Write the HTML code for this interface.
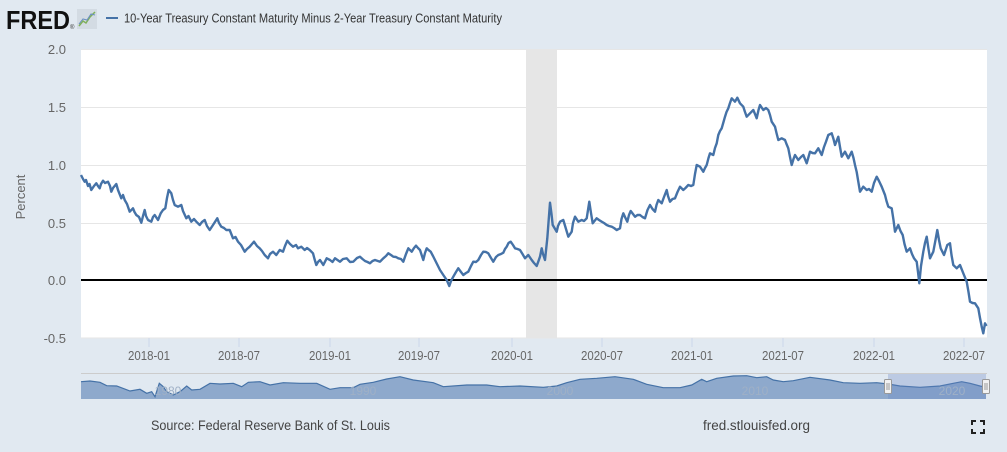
<!DOCTYPE html>
<html><head><meta charset="utf-8"><style>
html,body{margin:0;padding:0;background:#e1e9f1;}
svg{display:block;}
text{font-family:"Liberation Sans",Arial,sans-serif;}
</style></head><body>
<svg width="1007" height="452" viewBox="0 0 1007 452" xmlns="http://www.w3.org/2000/svg">
<rect x="0" y="0" width="1007" height="452" fill="#e1e9f1"/>
<!-- header -->
<text x="6" y="29" font-size="26" font-weight="bold" fill="#111" textLength="64" lengthAdjust="spacingAndGlyphs">FRED</text>
<text x="70" y="29" font-size="6" fill="#333">®</text>
<rect x="77" y="9" width="20" height="20" fill="#d3dbe3"/>
<polyline points="79,26 83,21 86,23 90,17 95,12" fill="none" stroke="#7fb05a" stroke-width="1.5"/>
<polyline points="79,24 83,19 87,20 91,14 95,15" fill="none" stroke="#6a8fc0" stroke-width="1"/>
<line x1="106" y1="18" x2="118" y2="18" stroke="#4572a7" stroke-width="2"/>
<text x="124" y="22.5" font-size="13" fill="#333" textLength="378" lengthAdjust="spacingAndGlyphs">10-Year Treasury Constant Maturity Minus 2-Year Treasury Constant Maturity</text>
<!-- plot -->
<rect x="81" y="49" width="906" height="289" fill="#ffffff"/>
<rect x="526" y="49" width="31" height="289" fill="#e6e6e6"/>
<g stroke="#e6e6e6" stroke-width="1">
<line x1="81" y1="49.5" x2="987" y2="49.5"/>
<line x1="81" y1="107.5" x2="987" y2="107.5"/>
<line x1="81" y1="165.5" x2="987" y2="165.5"/>
<line x1="81" y1="223.5" x2="987" y2="223.5"/>
<line x1="81" y1="338" x2="987" y2="338"/>
</g>
<line x1="81" y1="280" x2="987" y2="280" stroke="#000" stroke-width="2"/>
<!-- y labels -->
<g font-size="13" fill="#666" text-anchor="end">
<text x="66" y="54">2.0</text>
<text x="66" y="112">1.5</text>
<text x="66" y="170">1.0</text>
<text x="66" y="228">0.5</text>
<text x="66" y="285">0.0</text>
<text x="66" y="343">-0.5</text>
</g>
<text transform="translate(25,197) rotate(-90)" font-size="13" fill="#666" text-anchor="middle">Percent</text>
<!-- x ticks -->
<g stroke="#ccd6eb" stroke-width="1">
<line x1="149" y1="338" x2="149" y2="347"/><line x1="239" y1="338" x2="239" y2="347"/>
<line x1="330" y1="338" x2="330" y2="347"/><line x1="419" y1="338" x2="419" y2="347"/>
<line x1="512" y1="338" x2="512" y2="347"/><line x1="602" y1="338" x2="602" y2="347"/>
<line x1="692" y1="338" x2="692" y2="347"/><line x1="783" y1="338" x2="783" y2="347"/>
<line x1="874" y1="338" x2="874" y2="347"/><line x1="964" y1="338" x2="964" y2="347"/>
</g>
<g font-size="13" fill="#666">
<text x="128" y="360" textLength="42" lengthAdjust="spacingAndGlyphs">2018-01</text>
<text x="218" y="360" textLength="42" lengthAdjust="spacingAndGlyphs">2018-07</text>
<text x="309" y="360" textLength="42" lengthAdjust="spacingAndGlyphs">2019-01</text>
<text x="398" y="360" textLength="42" lengthAdjust="spacingAndGlyphs">2019-07</text>
<text x="491" y="360" textLength="42" lengthAdjust="spacingAndGlyphs">2020-01</text>
<text x="581" y="360" textLength="42" lengthAdjust="spacingAndGlyphs">2020-07</text>
<text x="671" y="360" textLength="42" lengthAdjust="spacingAndGlyphs">2021-01</text>
<text x="762" y="360" textLength="42" lengthAdjust="spacingAndGlyphs">2021-07</text>
<text x="853" y="360" textLength="42" lengthAdjust="spacingAndGlyphs">2022-01</text>
<text x="943" y="360" textLength="42" lengthAdjust="spacingAndGlyphs">2022-07</text>
</g>
<!-- series -->
<polyline fill="none" stroke="#4572a7" stroke-width="2.4" stroke-linejoin="round" points="81,175 83,179 84.7,181.7 86,180 88,186 89.5,184 91.3,190 94,186 96.3,183.3 98,186 99.7,188.3 101,184 103,180.7 105,183 108,181.7 110,186 111.3,191.7 113,188 116.3,184 118,190 121.3,198.3 123,195 124.7,200 127,204 129.7,211.7 133,208.3 134.5,212 136.3,215 139,217 141.3,222.7 143,216 144.7,210 146,216 148,220 151.3,221.7 153,217 154.7,215 158,220 160.7,213.3 163,210 165.3,208.3 167,198 168.7,190 171.3,193.3 173,200 174.7,205 178,206.7 181.3,205 183,211 186.3,218.3 188.5,216 191.3,221.7 194,219 196.3,221.7 199.7,225 202,222 204.7,220 207,226 209.7,230 213,225 217.3,218.3 219,223 221.3,226.7 224,228 226.3,230 229.7,230 233,238.3 235.5,237 238,241.7 241,245 244.7,251.7 247,249 249.7,246.7 252,244 254,241.7 257,246 259.7,248.3 262,251 264.7,255 268,258.3 270,254 273,251.7 276.3,255 279.7,250 283,251.7 285,246 287.3,240.7 290,244 293,246.7 296,245 298,248.3 301.3,246.7 304.7,250 307,248 309.7,250 313,253.3 314.5,259 316.3,265 318,262 320,260 323.3,265 326.7,258.3 330,260 332.5,262 335,258.3 337.5,260 340,261.7 343,259 346.7,258.3 350,262 353.3,261.7 357,258 360,256.7 362.5,259 365,261 367.5,262 370,263.3 372.5,261 375,260 380,261.7 383.3,258.3 386,256 388.3,253.3 391,255 393.3,256.7 396,257 398.3,258.3 401,259 403.3,261.7 406,254 408.3,248.3 411.7,251.7 414,248 416,245.7 418,248 420,250 423.3,260 425,253 426.7,248.3 428.5,250 430.7,251.7 433,256 435,260 437.5,265 440,270 443.3,275 446.7,280 449.3,286 451,281 453.3,276.7 456,272 458.3,268.3 461,272 463.3,275 466,273 468.3,271.7 471,266 473.3,261.7 476,262 478.3,260 481,255 483.3,251.7 486,252 488.3,253.3 491,258 493.3,261.7 496,257 498.3,255 501,254 503.3,252.7 505,249 506.7,246.7 508.5,243 510.7,241.7 513,245 515,248.3 517.5,249 520,250 522.5,254 525,258.3 528.3,255 531.7,260 534,263 536.7,266 538.5,261 540,256.7 541.7,248.3 543,254 545,260 547.3,238.3 550,202.7 551.5,214 552.7,225 554.5,228 556.7,231.7 558,226 560,221.7 563.3,220 566,229 568.3,236.7 571.7,231.7 573,223 575,216.7 578.3,221.7 581.7,220 584,221 586.7,218.3 589.3,201.7 591,213 592.7,223.3 596.7,218.3 599,220 601.7,221.7 604,223 606.7,225 609,226 611.7,226.7 614,228 616.7,230 620,228.3 621.5,219 623.3,213.3 625,217 627.3,221.7 629,215 630.7,211 633,214 635,216.7 637.5,215 640,215 642.5,217 645,218.3 647.5,210 650,205 652.5,209 655,211.7 656.5,205 658.3,200 661.7,203.3 664,197 666.7,190 668,196 670,201.7 672.5,199 675,198.3 677.5,192 680,186.7 683.3,190 685.5,188 688.3,185 691,186 693.3,185 695,174 696.7,165 700,166.7 703.3,171.7 705,168 706.7,165 708.5,158 710,153.3 713.3,155 715,148 716.7,143.3 718.3,135 720,131 721.7,128.3 723.5,122 725,116.7 726.5,112 728.3,108.3 730,103 731.7,98.3 735,101.7 737.3,97.7 740,103.3 743.3,106.7 745,112 746.7,116.7 750,113.3 753.3,110 755,114 756.7,118.3 758.5,110 760,105 763.3,110 766,108 768.3,110 770,115 771.7,121.7 775,126.7 776.5,133 778.3,140 781.7,138.3 785,140 786.5,144 788.3,148.3 790,157 791.7,165 793.5,159 795,155 798.3,160 801,157 803.3,155 806.7,163.3 808.5,157 810,151.7 812.5,153 815,153.3 818.3,148.3 821.7,155 824,147 826,141.7 828.3,135 831.7,133.3 833.5,139 835,145 838.3,136.7 840,147 841.7,156.7 845,151.7 848.3,158.3 851.7,151.7 853.5,158 855,165 856.7,172 858.3,181.7 860,191.7 863.3,186.7 866.7,190 869,189 871.7,191.7 874,183 876.7,176.7 879,181 881.7,186.7 885,195 886.5,201 888.3,206.7 891.7,208.3 893.5,220 895,231.7 898.3,225 900.5,231 902.7,235 904.5,244 906.7,251.7 910,248.3 912,254 914,258.3 916.7,261.7 918,272 919.3,283.3 921,266 923.3,251.7 925,243 926.7,236.7 928.5,249 930,258.3 933.3,251.7 935.5,240 937.3,230 939,240 940.7,248.3 944,255 947.3,245 950,243.3 951.5,255 953.3,265 956.7,268.3 960,265 963.3,273.3 966.7,281.7 968.5,292 970,301.7 972.5,303 975,303.3 978.3,308.3 980,318 981.7,326.7 983.3,333.3 985,323.3 986.5,326"/>
<!-- navigator -->
<line x1="81" y1="373.5" x2="987" y2="373.5" stroke="#cccccc" stroke-width="1"/>
<polygon fill="#8ea9cc" stroke="none" points="81,399 81,381.7 90,381 100,382.3 106.7,385.7 116.7,386 130,391 140,389.3 146.7,393.3 151.7,391.7 155,396.7 159.3,383.3 163.3,386.7 166.7,391.7 173.3,395 180,391.7 186.7,386 191.7,390 200,389.3 210,383.3 220,384 233.3,383.3 241.7,386.7 248.3,382.3 260,381.7 270,385 283.3,382.7 300,383.3 316.7,383.3 330,389.3 340,387.7 353.3,387.7 360,384.3 373.3,382.3 386.7,379 400,376.7 413.3,380 433.3,382.7 443.3,386.7 466.7,385 486.7,385 500,386.7 520,386 543.3,387.3 556.7,386 566.7,382.7 580,379.3 596.7,378.3 615,376.7 633.3,379.3 646.7,384.3 663.3,387.7 680,387.7 691.7,385 701.7,379.3 706.7,381.7 716.7,378.3 733.3,376 746.7,375.7 756.7,377.7 766.7,376.7 773.3,380 783.3,381.7 793.3,380.7 810,377.3 830,380 843.3,382.7 860,383.3 876.7,382.7 888.3,384 900,386 920,387.3 940,386 953.3,383.3 961.7,381.7 970,383.3 980,386 986,387.3 986,399"/>
<polyline fill="none" stroke="#4572a7" stroke-width="1.2" points="81,381.7 90,381 100,382.3 106.7,385.7 116.7,386 130,391 140,389.3 146.7,393.3 151.7,391.7 155,396.7 159.3,383.3 163.3,386.7 166.7,391.7 173.3,395 180,391.7 186.7,386 191.7,390 200,389.3 210,383.3 220,384 233.3,383.3 241.7,386.7 248.3,382.3 260,381.7 270,385 283.3,382.7 300,383.3 316.7,383.3 330,389.3 340,387.7 353.3,387.7 360,384.3 373.3,382.3 386.7,379 400,376.7 413.3,380 433.3,382.7 443.3,386.7 466.7,385 486.7,385 500,386.7 520,386 543.3,387.3 556.7,386 566.7,382.7 580,379.3 596.7,378.3 615,376.7 633.3,379.3 646.7,384.3 663.3,387.7 680,387.7 691.7,385 701.7,379.3 706.7,381.7 716.7,378.3 733.3,376 746.7,375.7 756.7,377.7 766.7,376.7 773.3,380 783.3,381.7 793.3,380.7 810,377.3 830,380 843.3,382.7 860,383.3 876.7,382.7 888.3,384 900,386 920,387.3 940,386 953.3,383.3 961.7,381.7 970,383.3 980,386 986,387.3"/>
<rect x="888" y="374" width="98" height="25" fill="rgba(102,133,194,0.3)"/>
<g font-size="12" fill="#9fb0c6" text-anchor="middle">
<text x="168" y="395">1980</text><text x="363" y="395">1990</text><text x="560" y="395">2000</text>
<text x="755" y="395">2010</text><text x="952" y="395">2020</text>
</g>
<g fill="#f2f2f2" stroke="#999" stroke-width="1">
<rect x="884.5" y="379.5" width="7" height="14" rx="1"/>
<rect x="982.5" y="379.5" width="7" height="14" rx="1"/>
</g>
<g stroke="#999" stroke-width="1">
<line x1="887" y1="383" x2="887" y2="390"/><line x1="889" y1="383" x2="889" y2="390"/>
<line x1="985" y1="383" x2="985" y2="390"/><line x1="987" y1="383" x2="987" y2="390"/>
</g>
<!-- footer -->
<text x="151" y="430" font-size="13.5" fill="#444" textLength="239" lengthAdjust="spacingAndGlyphs">Source: Federal Reserve Bank of St. Louis</text>
<text x="703" y="430" font-size="13.5" fill="#444" textLength="107" lengthAdjust="spacingAndGlyphs">fred.stlouisfed.org</text>
<g fill="none" stroke="#222" stroke-width="2">
<polyline points="972,425 972,421 976,421"/>
<polyline points="980,421 984,421 984,425"/>
<polyline points="972,429 972,433 976,433"/>
<polyline points="980,433 984,433 984,429"/>
</g>
</svg>
</body></html>
